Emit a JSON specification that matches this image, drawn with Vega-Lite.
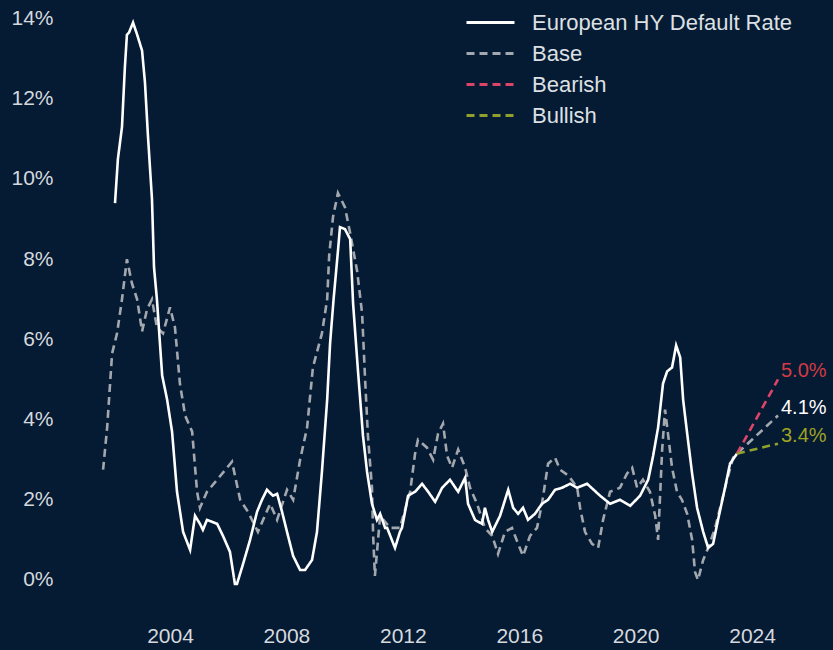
{
  "$schema": "https://vega.github.io/schema/vega-lite/v6.json",
  "width": 773,
  "height": 590,
  "autosize": {"type": "none"},
  "padding": {"left": 60, "top": 10, "right": 0, "bottom": 50},
  "background": "#051a33",
  "config": {"view": {"stroke": null}, "font": "Liberation Sans"},
  "datasets": {
    "series": [
      {"date": 2002.11, "value": 9.4, "series": "European HY Default Rate"},
      {"date": 2002.21, "value": 10.5, "series": "European HY Default Rate"},
      {"date": 2002.35, "value": 11.3, "series": "European HY Default Rate"},
      {"date": 2002.45, "value": 12.8, "series": "European HY Default Rate"},
      {"date": 2002.52, "value": 13.6, "series": "European HY Default Rate"},
      {"date": 2002.59, "value": 13.65, "series": "European HY Default Rate"},
      {"date": 2002.73, "value": 13.9, "series": "European HY Default Rate"},
      {"date": 2002.87, "value": 13.6, "series": "European HY Default Rate"},
      {"date": 2003.04, "value": 13.2, "series": "European HY Default Rate"},
      {"date": 2003.14, "value": 12.4, "series": "European HY Default Rate"},
      {"date": 2003.24, "value": 11.1, "series": "European HY Default Rate"},
      {"date": 2003.38, "value": 9.5, "series": "European HY Default Rate"},
      {"date": 2003.45, "value": 7.8, "series": "European HY Default Rate"},
      {"date": 2003.55, "value": 7.0, "series": "European HY Default Rate"},
      {"date": 2003.73, "value": 5.1, "series": "European HY Default Rate"},
      {"date": 2003.9, "value": 4.5, "series": "European HY Default Rate"},
      {"date": 2004.07, "value": 3.7, "series": "European HY Default Rate"},
      {"date": 2004.24, "value": 2.2, "series": "European HY Default Rate"},
      {"date": 2004.45, "value": 1.2, "series": "European HY Default Rate"},
      {"date": 2004.69, "value": 0.75, "series": "European HY Default Rate"},
      {"date": 2004.86, "value": 1.6, "series": "European HY Default Rate"},
      {"date": 2005.03, "value": 1.4, "series": "European HY Default Rate"},
      {"date": 2005.13, "value": 1.25, "series": "European HY Default Rate"},
      {"date": 2005.27, "value": 1.5, "series": "European HY Default Rate"},
      {"date": 2005.62, "value": 1.4, "series": "European HY Default Rate"},
      {"date": 2005.82, "value": 1.1, "series": "European HY Default Rate"},
      {"date": 2006.06, "value": 0.7, "series": "European HY Default Rate"},
      {"date": 2006.23, "value": -0.1, "series": "European HY Default Rate"},
      {"date": 2006.3, "value": -0.1, "series": "European HY Default Rate"},
      {"date": 2006.51, "value": 0.4, "series": "European HY Default Rate"},
      {"date": 2006.75, "value": 1.0, "series": "European HY Default Rate"},
      {"date": 2006.99, "value": 1.7, "series": "European HY Default Rate"},
      {"date": 2007.16, "value": 2.0, "series": "European HY Default Rate"},
      {"date": 2007.33, "value": 2.25, "series": "European HY Default Rate"},
      {"date": 2007.54, "value": 2.1, "series": "European HY Default Rate"},
      {"date": 2007.68, "value": 2.15, "series": "European HY Default Rate"},
      {"date": 2007.85, "value": 1.7, "series": "European HY Default Rate"},
      {"date": 2008.02, "value": 1.2, "series": "European HY Default Rate"},
      {"date": 2008.23, "value": 0.6, "series": "European HY Default Rate"},
      {"date": 2008.47, "value": 0.25, "series": "European HY Default Rate"},
      {"date": 2008.64, "value": 0.25, "series": "European HY Default Rate"},
      {"date": 2008.88, "value": 0.5, "series": "European HY Default Rate"},
      {"date": 2009.05, "value": 1.2, "series": "European HY Default Rate"},
      {"date": 2009.22, "value": 2.7, "series": "European HY Default Rate"},
      {"date": 2009.4, "value": 4.5, "series": "European HY Default Rate"},
      {"date": 2009.5, "value": 5.9, "series": "European HY Default Rate"},
      {"date": 2009.62, "value": 7.0, "series": "European HY Default Rate"},
      {"date": 2009.77, "value": 8.2, "series": "European HY Default Rate"},
      {"date": 2009.84, "value": 8.8, "series": "European HY Default Rate"},
      {"date": 2010.01, "value": 8.75, "series": "European HY Default Rate"},
      {"date": 2010.19, "value": 8.5, "series": "European HY Default Rate"},
      {"date": 2010.29, "value": 6.9, "series": "European HY Default Rate"},
      {"date": 2010.46, "value": 5.2, "series": "European HY Default Rate"},
      {"date": 2010.63, "value": 3.6, "series": "European HY Default Rate"},
      {"date": 2010.77, "value": 2.7, "series": "European HY Default Rate"},
      {"date": 2010.94, "value": 1.9, "series": "European HY Default Rate"},
      {"date": 2011.11, "value": 1.5, "series": "European HY Default Rate"},
      {"date": 2011.22, "value": 1.65, "series": "European HY Default Rate"},
      {"date": 2011.39, "value": 1.3, "series": "European HY Default Rate"},
      {"date": 2011.46, "value": 1.3, "series": "European HY Default Rate"},
      {"date": 2011.73, "value": 0.8, "series": "European HY Default Rate"},
      {"date": 2011.9, "value": 1.2, "series": "European HY Default Rate"},
      {"date": 2011.97, "value": 1.3, "series": "European HY Default Rate"},
      {"date": 2012.18, "value": 2.1, "series": "European HY Default Rate"},
      {"date": 2012.42, "value": 2.2, "series": "European HY Default Rate"},
      {"date": 2012.66, "value": 2.4, "series": "European HY Default Rate"},
      {"date": 2012.87, "value": 2.2, "series": "European HY Default Rate"},
      {"date": 2013.11, "value": 1.95, "series": "European HY Default Rate"},
      {"date": 2013.35, "value": 2.3, "series": "European HY Default Rate"},
      {"date": 2013.62, "value": 2.5, "series": "European HY Default Rate"},
      {"date": 2013.9, "value": 2.2, "series": "European HY Default Rate"},
      {"date": 2014.14, "value": 2.55, "series": "European HY Default Rate"},
      {"date": 2014.24, "value": 1.9, "series": "European HY Default Rate"},
      {"date": 2014.48, "value": 1.5, "series": "European HY Default Rate"},
      {"date": 2014.72, "value": 1.4, "series": "European HY Default Rate"},
      {"date": 2014.82, "value": 1.8, "series": "European HY Default Rate"},
      {"date": 2014.93, "value": 1.5, "series": "European HY Default Rate"},
      {"date": 2015.07, "value": 1.2, "series": "European HY Default Rate"},
      {"date": 2015.34, "value": 1.6, "series": "European HY Default Rate"},
      {"date": 2015.62, "value": 2.25, "series": "European HY Default Rate"},
      {"date": 2015.79, "value": 1.8, "series": "European HY Default Rate"},
      {"date": 2015.96, "value": 1.65, "series": "European HY Default Rate"},
      {"date": 2016.13, "value": 1.8, "series": "European HY Default Rate"},
      {"date": 2016.3, "value": 1.5, "series": "European HY Default Rate"},
      {"date": 2016.54, "value": 1.65, "series": "European HY Default Rate"},
      {"date": 2016.78, "value": 1.9, "series": "European HY Default Rate"},
      {"date": 2016.99, "value": 2.0, "series": "European HY Default Rate"},
      {"date": 2017.23, "value": 2.25, "series": "European HY Default Rate"},
      {"date": 2017.47, "value": 2.3, "series": "European HY Default Rate"},
      {"date": 2017.75, "value": 2.4, "series": "European HY Default Rate"},
      {"date": 2017.99, "value": 2.3, "series": "European HY Default Rate"},
      {"date": 2018.33, "value": 2.4, "series": "European HY Default Rate"},
      {"date": 2018.78, "value": 2.1, "series": "European HY Default Rate"},
      {"date": 2019.12, "value": 1.9, "series": "European HY Default Rate"},
      {"date": 2019.46, "value": 2.0, "series": "European HY Default Rate"},
      {"date": 2019.81, "value": 1.85, "series": "European HY Default Rate"},
      {"date": 2020.15, "value": 2.1, "series": "European HY Default Rate"},
      {"date": 2020.43, "value": 2.5, "series": "European HY Default Rate"},
      {"date": 2020.6, "value": 3.1, "series": "European HY Default Rate"},
      {"date": 2020.77, "value": 3.8, "series": "European HY Default Rate"},
      {"date": 2020.94, "value": 4.9, "series": "European HY Default Rate"},
      {"date": 2021.08, "value": 5.2, "series": "European HY Default Rate"},
      {"date": 2021.25, "value": 5.3, "series": "European HY Default Rate"},
      {"date": 2021.39, "value": 5.85, "series": "European HY Default Rate"},
      {"date": 2021.53, "value": 5.55, "series": "European HY Default Rate"},
      {"date": 2021.63, "value": 4.5, "series": "European HY Default Rate"},
      {"date": 2021.77, "value": 3.65, "series": "European HY Default Rate"},
      {"date": 2021.94, "value": 2.65, "series": "European HY Default Rate"},
      {"date": 2022.11, "value": 1.8, "series": "European HY Default Rate"},
      {"date": 2022.32, "value": 1.2, "series": "European HY Default Rate"},
      {"date": 2022.49, "value": 0.8, "series": "European HY Default Rate"},
      {"date": 2022.66, "value": 0.9, "series": "European HY Default Rate"},
      {"date": 2022.83, "value": 1.5, "series": "European HY Default Rate"},
      {"date": 2023.07, "value": 2.3, "series": "European HY Default Rate"},
      {"date": 2023.24, "value": 2.9, "series": "European HY Default Rate"},
      {"date": 2023.48, "value": 3.15, "series": "European HY Default Rate"},
      {"date": 2001.7, "value": 2.75, "series": "Base"},
      {"date": 2001.84, "value": 3.8, "series": "Base"},
      {"date": 2002.01, "value": 5.65, "series": "Base"},
      {"date": 2002.18, "value": 6.15, "series": "Base"},
      {"date": 2002.35, "value": 7.0, "series": "Base"},
      {"date": 2002.52, "value": 8.0, "series": "Base"},
      {"date": 2002.69, "value": 7.4, "series": "Base"},
      {"date": 2002.87, "value": 7.0, "series": "Base"},
      {"date": 2003.04, "value": 6.2, "series": "Base"},
      {"date": 2003.21, "value": 6.75, "series": "Base"},
      {"date": 2003.38, "value": 7.0, "series": "Base"},
      {"date": 2003.55, "value": 6.3, "series": "Base"},
      {"date": 2003.76, "value": 6.15, "series": "Base"},
      {"date": 2004.0, "value": 6.8, "series": "Base"},
      {"date": 2004.17, "value": 6.3, "series": "Base"},
      {"date": 2004.34, "value": 4.9, "series": "Base"},
      {"date": 2004.52, "value": 4.1, "series": "Base"},
      {"date": 2004.76, "value": 3.7, "series": "Base"},
      {"date": 2004.93, "value": 2.2, "series": "Base"},
      {"date": 2005.03, "value": 1.8, "series": "Base"},
      {"date": 2005.27, "value": 2.2, "series": "Base"},
      {"date": 2005.62, "value": 2.5, "series": "Base"},
      {"date": 2006.13, "value": 2.95, "series": "Base"},
      {"date": 2006.41, "value": 2.0, "series": "Base"},
      {"date": 2006.68, "value": 1.7, "series": "Base"},
      {"date": 2007.02, "value": 1.2, "series": "Base"},
      {"date": 2007.2, "value": 1.5, "series": "Base"},
      {"date": 2007.44, "value": 1.9, "series": "Base"},
      {"date": 2007.68, "value": 1.5, "series": "Base"},
      {"date": 2008.02, "value": 2.25, "series": "Base"},
      {"date": 2008.23, "value": 2.0, "series": "Base"},
      {"date": 2008.47, "value": 3.0, "series": "Base"},
      {"date": 2008.71, "value": 3.8, "series": "Base"},
      {"date": 2008.91, "value": 5.3, "series": "Base"},
      {"date": 2009.22, "value": 6.15, "series": "Base"},
      {"date": 2009.4, "value": 7.0, "series": "Base"},
      {"date": 2009.47, "value": 8.1, "series": "Base"},
      {"date": 2009.6, "value": 9.05, "series": "Base"},
      {"date": 2009.77, "value": 9.65, "series": "Base"},
      {"date": 2010.01, "value": 9.3, "series": "Base"},
      {"date": 2010.19, "value": 8.65, "series": "Base"},
      {"date": 2010.43, "value": 7.7, "series": "Base"},
      {"date": 2010.6, "value": 6.65, "series": "Base"},
      {"date": 2010.7, "value": 5.05, "series": "Base"},
      {"date": 2010.8, "value": 3.6, "series": "Base"},
      {"date": 2010.94, "value": 2.3, "series": "Base"},
      {"date": 2010.98, "value": 1.1, "series": "Base"},
      {"date": 2011.04, "value": 0.1, "series": "Base"},
      {"date": 2011.22, "value": 1.6, "series": "Base"},
      {"date": 2011.56, "value": 1.3, "series": "Base"},
      {"date": 2011.9, "value": 1.3, "series": "Base"},
      {"date": 2012.25, "value": 2.2, "series": "Base"},
      {"date": 2012.42, "value": 3.15, "series": "Base"},
      {"date": 2012.52, "value": 3.5, "series": "Base"},
      {"date": 2012.83, "value": 3.3, "series": "Base"},
      {"date": 2013.04, "value": 3.0, "series": "Base"},
      {"date": 2013.21, "value": 3.65, "series": "Base"},
      {"date": 2013.38, "value": 3.9, "series": "Base"},
      {"date": 2013.52, "value": 3.1, "series": "Base"},
      {"date": 2013.69, "value": 2.8, "series": "Base"},
      {"date": 2013.9, "value": 3.25, "series": "Base"},
      {"date": 2014.14, "value": 2.8, "series": "Base"},
      {"date": 2014.31, "value": 2.3, "series": "Base"},
      {"date": 2014.55, "value": 1.9, "series": "Base"},
      {"date": 2014.82, "value": 1.3, "series": "Base"},
      {"date": 2015.07, "value": 1.1, "series": "Base"},
      {"date": 2015.27, "value": 0.65, "series": "Base"},
      {"date": 2015.51, "value": 1.2, "series": "Base"},
      {"date": 2015.75, "value": 1.3, "series": "Base"},
      {"date": 2015.96, "value": 0.9, "series": "Base"},
      {"date": 2016.13, "value": 0.6, "series": "Base"},
      {"date": 2016.37, "value": 1.1, "series": "Base"},
      {"date": 2016.61, "value": 1.3, "series": "Base"},
      {"date": 2016.78, "value": 1.9, "series": "Base"},
      {"date": 2016.99, "value": 2.9, "series": "Base"},
      {"date": 2017.23, "value": 3.05, "series": "Base"},
      {"date": 2017.4, "value": 2.75, "series": "Base"},
      {"date": 2017.7, "value": 2.6, "series": "Base"},
      {"date": 2017.99, "value": 2.3, "series": "Base"},
      {"date": 2018.09, "value": 1.8, "series": "Base"},
      {"date": 2018.26, "value": 1.2, "series": "Base"},
      {"date": 2018.5, "value": 0.9, "series": "Base"},
      {"date": 2018.71, "value": 0.8, "series": "Base"},
      {"date": 2018.88, "value": 1.5, "series": "Base"},
      {"date": 2019.12, "value": 2.2, "series": "Base"},
      {"date": 2019.46, "value": 2.3, "series": "Base"},
      {"date": 2019.7, "value": 2.65, "series": "Base"},
      {"date": 2019.88, "value": 2.8, "series": "Base"},
      {"date": 2020.05, "value": 2.3, "series": "Base"},
      {"date": 2020.25, "value": 2.5, "series": "Base"},
      {"date": 2020.49, "value": 2.2, "series": "Base"},
      {"date": 2020.67, "value": 1.6, "series": "Base"},
      {"date": 2020.77, "value": 1.0, "series": "Base"},
      {"date": 2020.91, "value": 3.25, "series": "Base"},
      {"date": 2021.01, "value": 4.25, "series": "Base"},
      {"date": 2021.11, "value": 3.65, "series": "Base"},
      {"date": 2021.25, "value": 2.8, "series": "Base"},
      {"date": 2021.42, "value": 2.2, "series": "Base"},
      {"date": 2021.59, "value": 2.0, "series": "Base"},
      {"date": 2021.77, "value": 1.65, "series": "Base"},
      {"date": 2021.94, "value": 1.0, "series": "Base"},
      {"date": 2022.04, "value": 0.2, "series": "Base"},
      {"date": 2022.14, "value": 0.0, "series": "Base"},
      {"date": 2022.32, "value": 0.5, "series": "Base"},
      {"date": 2022.49, "value": 0.8, "series": "Base"},
      {"date": 2022.73, "value": 1.3, "series": "Base"},
      {"date": 2022.97, "value": 2.0, "series": "Base"},
      {"date": 2023.14, "value": 2.5, "series": "Base"},
      {"date": 2023.35, "value": 3.05, "series": "Base"},
      {"date": 2023.48, "value": 3.15, "series": "Base"},
      {"date": 2024.89, "value": 4.1, "series": "Base"},
      {"date": 2023.48, "value": 3.15, "series": "Bearish"},
      {"date": 2024.89, "value": 5.0, "series": "Bearish"},
      {"date": 2023.48, "value": 3.15, "series": "Bullish"},
      {"date": 2024.89, "value": 3.4, "series": "Bullish"}
    ],
    "labels": [
      {"date": 2024.89, "value": 5.0, "label": "5.0%", "series": "Bearish"},
      {"date": 2024.89, "value": 4.1, "label": "4.1%", "series": "Base"},
      {"date": 2024.89, "value": 3.4, "label": "3.4%", "series": "Bullish"}
    ]
  },
  "encoding": {
    "x": {
      "field": "date",
      "type": "quantitative",
      "scale": {"domain": [2000.22, 2026.78], "nice": false, "zero": false},
      "axis": {
        "values": [2004, 2008, 2012, 2016, 2020, 2024],
        "format": "d",
        "title": null,
        "domain": false,
        "ticks": false,
        "tickSize": 0,
        "grid": false,
        "labelFontSize": 21,
        "labelColor": "#d5d9de",
        "labelPadding": 25
      }
    },
    "y": {
      "field": "value",
      "type": "quantitative",
      "scale": {"domain": [-0.499, 14.214], "nice": false, "zero": false},
      "axis": {
        "values": [0, 2, 4, 6, 8, 10, 12, 14],
        "labelExpr": "datum.value + '%'",
        "title": null,
        "domain": false,
        "ticks": false,
        "tickSize": 0,
        "grid": false,
        "labelFontSize": 21,
        "labelColor": "#d5d9de",
        "labelPadding": 7
      }
    }
  },
  "layer": [
    {
      "data": {"name": "series"},
      "transform": [{"filter": "datum.series == 'Base'"}],
      "mark": {"type": "line", "strokeWidth": 2.6},
      "encoding": {
        "color": {"field": "series", "type": "nominal",
          "scale": {"domain": ["European HY Default Rate", "Base", "Bearish", "Bullish"], "range": ["#ffffff", "#a3a8ae", "#dc4468", "#8fa12c"]},
          "legend": {"orient": "none", "legendX": 419, "legendY": 1, "title": null, "symbolType": "M-2.4,0H2.4", "symbolSize": 400, "symbolStrokeWidth": 3, "labelFontSize": 22, "labelColor": "#dde0e4", "labelOffset": 30, "labelLimit": 400, "rowPadding": 8, "padding": 0}},
        "strokeDash": {"field": "series", "type": "nominal",
          "scale": {"domain": ["European HY Default Rate", "Base", "Bearish", "Bullish"], "range": [[1, 0], [8, 5], [8, 5], [8, 5]]},
          "legend": {"orient": "none", "legendX": 419, "legendY": 1, "title": null, "symbolType": "M-2.4,0H2.4", "symbolSize": 400, "symbolStrokeWidth": 3, "labelFontSize": 22, "labelColor": "#dde0e4", "labelOffset": 30, "labelLimit": 400, "rowPadding": 8, "padding": 0}}
      }
    },
    {
      "data": {"name": "series"},
      "transform": [{"filter": "datum.series == 'European HY Default Rate'"}],
      "mark": {"type": "line", "strokeWidth": 2.6},
      "encoding": {
        "color": {"field": "series", "type": "nominal"},
        "strokeDash": {"field": "series", "type": "nominal"}
      }
    },
    {
      "data": {"name": "series"},
      "transform": [{"filter": "datum.series == 'Bearish' || datum.series == 'Bullish'"}],
      "mark": {"type": "line", "strokeWidth": 2.6},
      "encoding": {
        "color": {"field": "series", "type": "nominal"},
        "strokeDash": {"field": "series", "type": "nominal"}
      }
    },
    {
      "data": {"name": "labels"},
      "mark": {"type": "text", "align": "left", "baseline": "middle", "dx": 3, "dy": -8, "fontSize": 20},
      "encoding": {
        "text": {"field": "label", "type": "nominal"},
        "fill": {"field": "series", "type": "nominal",
          "scale": {"domain": ["Bearish", "Base", "Bullish"], "range": ["#d23a45", "#ffffff", "#9ea324"]},
          "legend": null}
      }
    }
  ]
}
